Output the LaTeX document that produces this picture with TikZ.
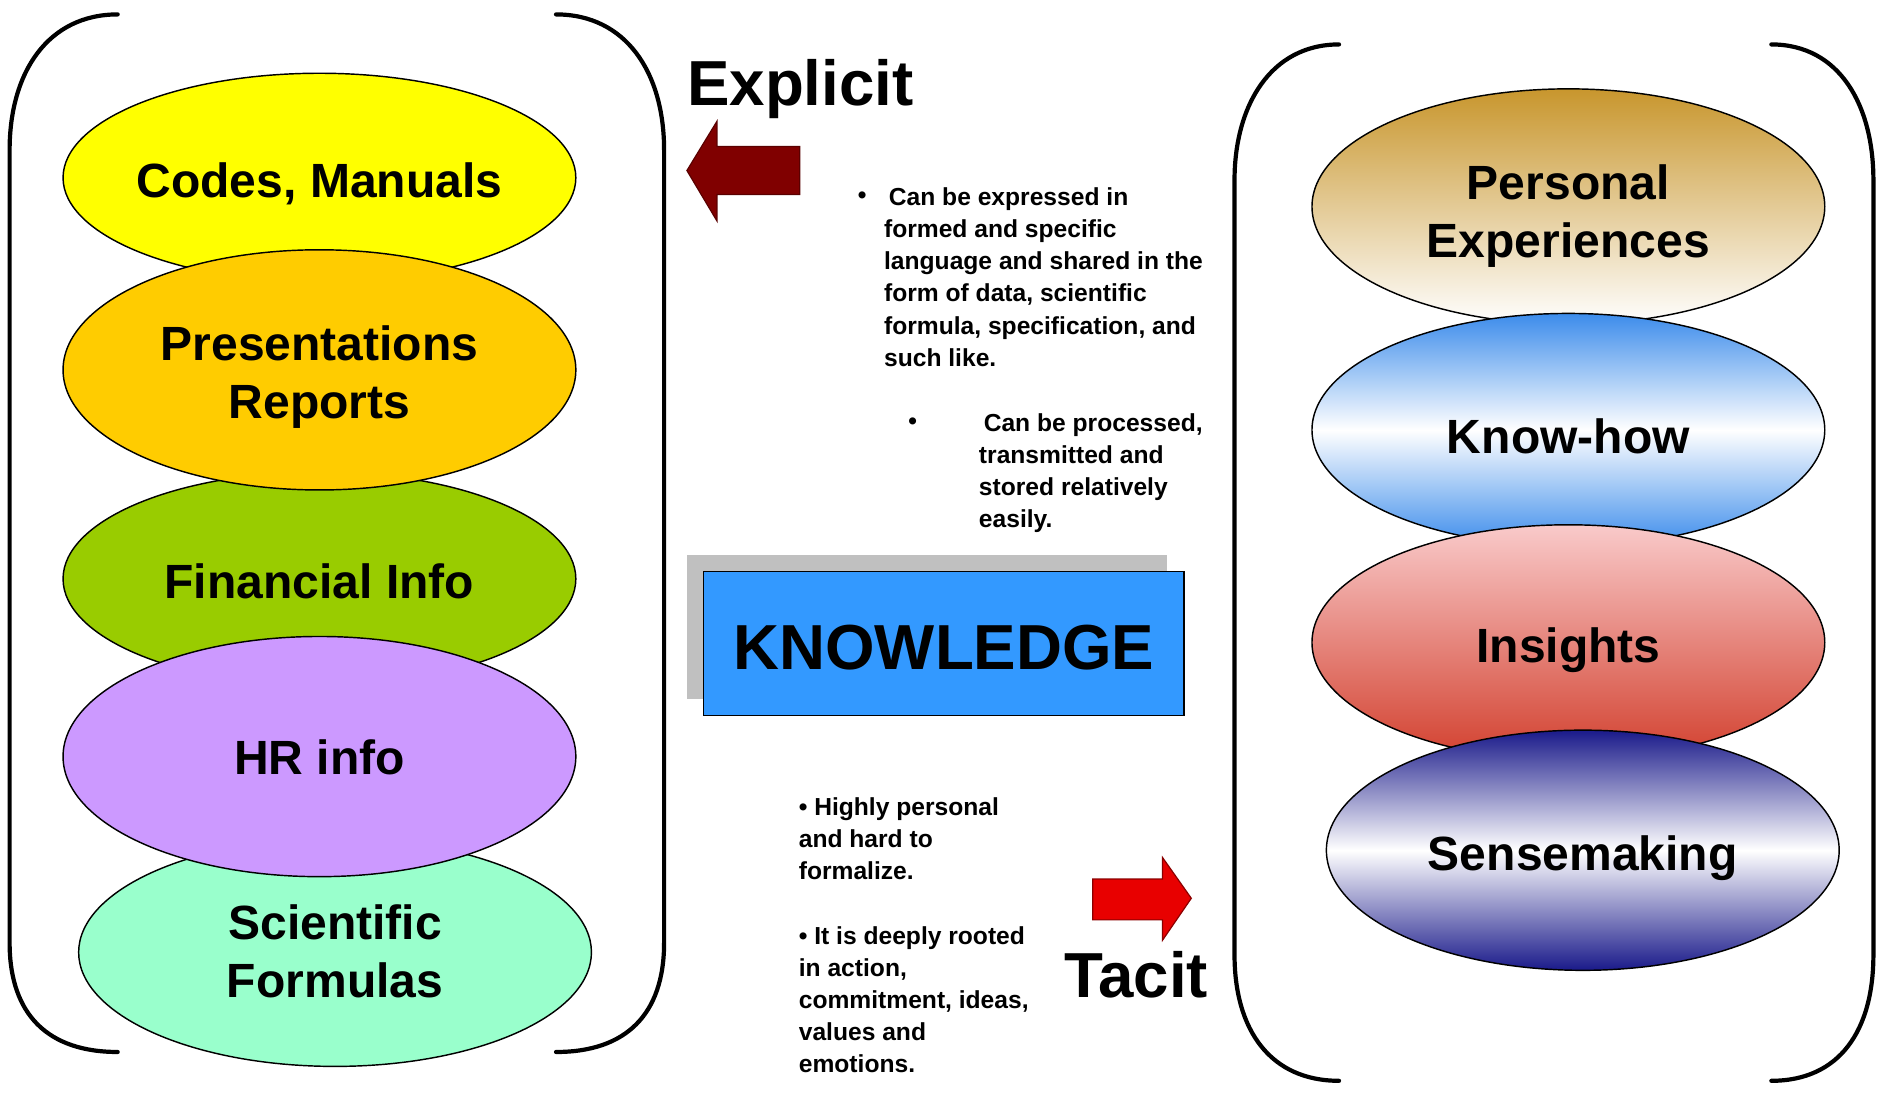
\documentclass[tikz,border=0pt]{standalone}
\usepackage{fontspec}
\setmainfont{Liberation Sans}
\usetikzlibrary{shapes.geometric,shadings,shadows}
\definecolor{cyel}{HTML}{FFFF00}
\definecolor{corg}{HTML}{FFCC00}
\definecolor{cgrn}{HTML}{99CC00}
\definecolor{cpur}{HTML}{CC99FF}
\definecolor{cmnt}{HTML}{99FFCC}
\definecolor{cgold}{RGB}{200,150,45}
\definecolor{ckblue}{RGB}{60,140,235}
\definecolor{cpink}{RGB}{249,202,202}
\definecolor{cred}{RGB}{210,64,46}
\definecolor{cnavy}{RGB}{26,26,138}
\definecolor{cbox}{HTML}{3399FF}
\definecolor{cshadow}{HTML}{C0C0C0}
\definecolor{cdarkred}{HTML}{800000}
\definecolor{carrred}{HTML}{E80000}
\begin{document}
\begin{tikzpicture}[x=1pt,y=-1pt,
  ell/.style={ellipse, draw=black, line width=1.2pt, inner sep=0pt, minimum width=427pt},
  lbl/.style={font=\fontsize{40}{48}\selectfont\bfseries, align=center, inner sep=0pt},
  brk/.style={line width=3.5pt, line cap=round},
  small/.style={font=\fontsize{20.5}{26.8}\selectfont\bfseries, align=left, inner sep=0pt, anchor=north west},
  bullet/.style={font=\fontsize{20.5}{26.8}\selectfont\bfseries, inner sep=0pt},
  bigword/.style={font=\fontsize{53}{60}\selectfont\bfseries, inner sep=0pt}]
\useasboundingbox (0,0) rectangle (1568,912);
\fill[white] (0,0) rectangle (1568,912);

% brackets, left group
\draw[brk] (98,12) .. controls (40,12) and (8,60) .. (8,125) -- (8,785) .. controls (8,845) and (40,876) .. (98,876);
\draw[brk] (463,12) .. controls (521,12) and (553,60) .. (553,125) -- (553,785) .. controls (553,845) and (521,876) .. (463,876);
% brackets, right group
\draw[brk] (1115,37) .. controls (1058,37) and (1028,88) .. (1028,150) -- (1028,795) .. controls (1028,858) and (1058,900) .. (1115,900);
\draw[brk] (1475,37) .. controls (1532,37) and (1560,88) .. (1560,150) -- (1560,795) .. controls (1560,858) and (1532,900) .. (1475,900);

% left ellipses
\node[ell, fill=cyel, minimum height=174pt] (codes) at (266,148) {};
\node[lbl, yshift=-5pt] (codesT) at (codes) {Codes, Manuals};
\node[ell, fill=cgrn, minimum height=178pt] (fin) at (266,482) {};
\node[lbl, yshift=-2pt] (finT) at (fin) {Financial Info};
\node[ell, fill=cmnt, minimum height=190pt] (sci) at (279,793) {};
\node[lbl, yshift=1pt] (sciT) at (sci) {Scientific\\Formulas};
\node[ell, fill=corg, minimum height=200pt] (pres) at (266,308) {};
\node[lbl, yshift=-6pt] (presT) at (pres) {Presentations\\Reports};
\node[ell, fill=cpur, minimum height=200pt] (hr) at (266,630) {};
\node[lbl, yshift=-1pt] (hrT) at (hr) {HR info};

% right ellipses
\node[ell, top color=cgold, bottom color=white, minimum height=196pt] (pers) at (1306,172) {};
\node[lbl, yshift=-8pt] (persT) at (pers) {Personal\\Experiences};
\node[ell, top color=ckblue, bottom color=ckblue, middle color=white, minimum height=194pt] (know) at (1306,358) {};
\node[lbl, yshift=-5pt] (knowT) at (know) {Know-how};
\node[ell, top color=cpink, bottom color=cred, minimum height=196pt] (ins) at (1306,535) {};
\node[lbl, yshift=-6pt] (insT) at (ins) {Insights};
\node[ell, top color=cnavy, bottom color=cnavy, middle color=white, minimum height=200pt] (sense) at (1318,708) {};
\node[lbl, yshift=-7pt] (senseT) at (sense) {Sensemaking};

% central box
\node[draw=black, line width=1pt, fill=cbox, minimum width=400pt, minimum height=120pt, inner sep=0pt,
  drop shadow={shadow xshift=-14pt, shadow yshift=14pt, fill=cshadow, opacity=1}] (kn) at (786,536) {};
\node[bigword, yshift=-3pt] (knT) at (kn) {KNOWLEDGE};

% headings
\node[bigword, anchor=base west] (expl) at (572,88) {Explicit};
\node[bigword, anchor=base west] (tac) at (886,831) {Tacit};

% arrows
\draw[fill=cdarkred, draw=cdarkred!70!black, line width=1pt] (666,122) -- (597,122) -- (597,101) -- (572,142) -- (597,184) -- (597,162) -- (666,162) -- cycle;
\draw[fill=carrred, draw=carrred!60!black, line width=1pt] (910,732) -- (968,732) -- (968,714) -- (992,748) -- (968,783) -- (968,766) -- (910,766) -- cycle;

% explicit texts
\node[bullet] (b1) at (718,165) {•};
\node[small] (t1) at (736,156) {\hspace{4pt}Can be expressed in\\formed and specific\\language and shared in the\\form of data, scientific\\formula, specification, and\\such like.};
\node[bullet] (b2) at (760,353) {•};
\node[small] (t2) at (815,344) {\hspace{4pt}Can be processed,\\transmitted and\\stored relatively\\easily.};

% tacit texts
\node[small] (t3) at (665,664) {• Highly personal\\and hard to\\formalize.\\[26.8pt]• It is deeply rooted\\in action,\\commitment, ideas,\\values and\\emotions.};
\end{tikzpicture}
\end{document}
